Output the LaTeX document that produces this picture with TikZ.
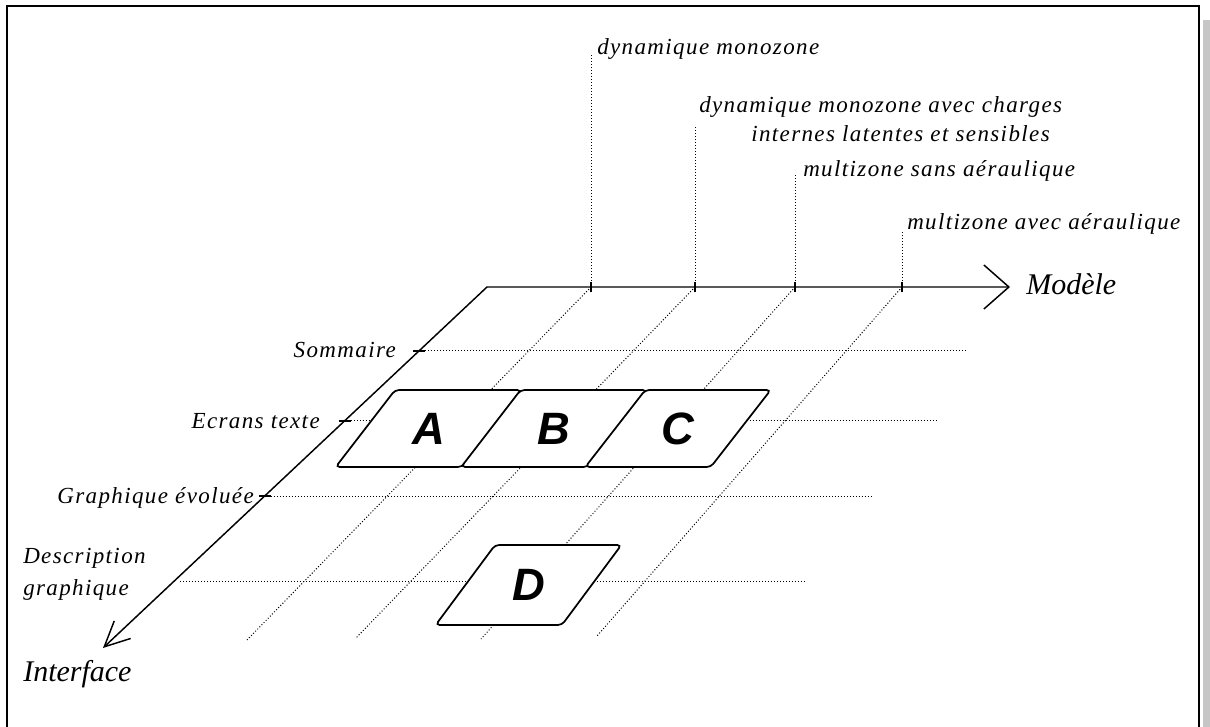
\documentclass[tikz,border=0pt]{standalone}
\usepackage{fontspec}
\setmainfont{Liberation Serif}
\newfontfamily\spacedserif[LetterSpace=6]{Liberation Serif}
\newfontfamily\screensans{Liberation Sans}
\usetikzlibrary{arrows.meta, shapes.geometric, calc}
\begin{document}
\begin{tikzpicture}[
        x=0.75pt, y=-0.75pt,
        axis/.style={line width=1.1pt},
        guide/.style={line width=0.75pt, dash pattern=on 0.75pt off 1.5pt},
        lbl/.style={font=\spacedserif\itshape\fontsize{17.25}{18}\selectfont, inner sep=0pt},
        axlbl/.style={font=\itshape\fontsize{22.5}{26}\selectfont, inner sep=0pt},
        screen/.style={draw, line width=1.3pt, fill=white, trapezium, trapezium left angle=47, trapezium right angle=133, trapezium stretches=true, minimum width=140pt, minimum height=57.75pt, rounded corners=3pt, inner sep=0pt, font=\screensans\bfseries\itshape\fontsize{34}{34}\selectfont}
    ]
        \useasboundingbox (0,0) rectangle (1210,727);

        % Frame
        \draw[line width=1.5pt] (7,727) -- (7,6) -- (1199,6) -- (1199,727);
        \fill[gray!45] (1203,20) rectangle (1210,727);

        % Axis ends (absolute positioning)
        \coordinate (corner) at (487,287);
        \coordinate (mtip) at (1010,287);
        \coordinate (itip) at (103,648);

        % Model levels
        \foreach \n/\x/\top/\bx/\by in {m1/591/55/247/640, m2/695/127/356/638, m3/795/173/481/639, m4/902/232/597/636} {
            \coordinate (\n) at (\x,287);
            \coordinate (\n up) at (\x,\top);
            \coordinate (\n low) at (\bx,\by);
            \draw[guide] (\n) -- (\n up);
            \draw[guide] (\n) -- (\n low);
            \draw[axis] ([yshift=-4pt]\n) -- ([yshift=4pt]\n);
        }

        % Interface levels
        \foreach \n/\t/\xe in {sommaire/0.177/968, ecrans/0.371/937, graphique/0.579/872} {
            \coordinate (\n) at ($(corner)!\t!(itip)$);
            \coordinate (\n end) at (\xe,0 |- \n);
            \draw[guide] ([xshift=4.5pt]\n) -- (\n end);
            \draw[axis] ([xshift=-4.5pt]\n) -- ([xshift=4.5pt]\n);
        }
        \coordinate (descr) at ($(corner)!0.817!(itip)$);
        \coordinate (descr end) at (804,0 |- descr);
        \draw[guide] ([xshift=5pt]descr) -- (descr end);

        % Screens
        \node[screen] (boxA) at (428.5,428.5) {A};
        \node[screen] (boxB) at (554,428.5) {B};
        \node[screen] (boxC) at (678,428.5) {C};
        \node[screen, minimum height=60pt] (boxD) at (528.5,585) {D};

        % Axes
        \draw[axis, {Straight Barb[length=18.75pt, width=18pt]}-{Straight Barb[length=18.75pt, width=33pt]}] (itip) -- (corner) -- (mtip);
        \node[axlbl, anchor=base west] (modele) at (1026,295) {Modèle};
        \node[axlbl, anchor=base west] (interface) at (23,681) {Interface};

        % Labels
        \node[lbl, anchor=base west] (dynmono) at (597,55) {dynamique monozone};
        \node[lbl, anchor=base west] (dyncharges) at (699,113) {dynamique monozone avec charges};
        \node[lbl, anchor=base west] (dynsens) at (751,142) {internes latentes et sensibles};
        \node[lbl, anchor=base west] (multisans) at (803,177) {multizone sans aéraulique};
        \node[lbl, anchor=base west] (multiavec) at (907,230) {multizone avec aéraulique};
        \node[lbl, anchor=base east] (sommaire lbl) at (396,358) {Sommaire};
        \node[lbl, anchor=base east] (ecrans lbl) at (320,428) {Ecrans texte};
        \node[lbl, anchor=base east] (graphique lbl) at (254,503) {Graphique évoluée};
        \node[lbl, anchor=base west, align=left, font=\spacedserif\itshape\fontsize{17.25}{24}\selectfont] (descr lbl) at (23,595) {Description\\graphique};

    \end{tikzpicture}
\end{document}
